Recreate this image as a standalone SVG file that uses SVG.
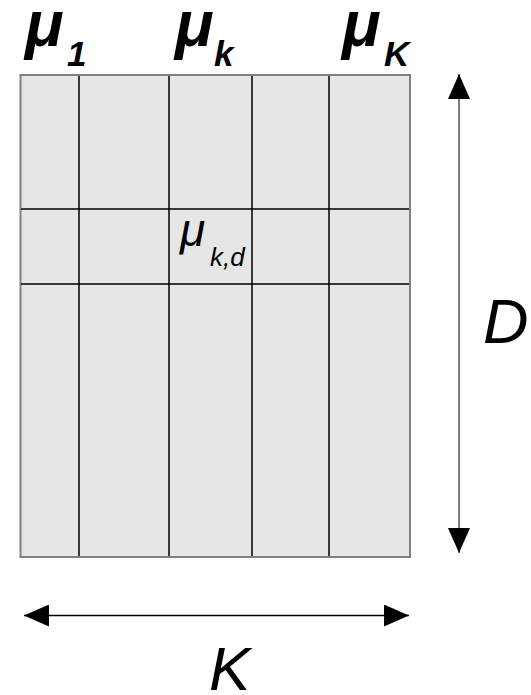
<svg xmlns="http://www.w3.org/2000/svg" width="531" height="695" viewBox="0 0 531 695">
<style>
.b{font-family:"Liberation Sans",Arial,sans-serif;font-style:italic;font-weight:bold;fill:#000}
.i{font-family:"Liberation Sans",Arial,sans-serif;font-style:italic;fill:#000}
.g{stroke:#000;stroke-width:1.5;fill:none}
</style>
<defs>
<marker id="ah" viewBox="0 0 25 22" refX="25" refY="11" markerWidth="25" markerHeight="22" markerUnits="userSpaceOnUse" orient="auto-start-reverse">
<path d="M0,0 L25,11 L0,22 Z" fill="#000"/>
</marker>
</defs>
<rect width="531" height="695" fill="#fff"/>
<g id="matrix">
<rect x="20.5" y="75" width="389.5" height="482" fill="#e6e6e6" stroke="#808080" stroke-width="2"/>
<path class="g" d="M79,76V556M169,76V556M252,76V556M329,76V556M21,209H409M21,284H409"/>
</g>
<g id="labels">
<text class="b" x="25" y="46" font-size="64">μ</text>
<text class="b" x="67" y="66" font-size="35">1</text>
<text class="b" x="175" y="46" font-size="64">μ</text>
<text class="b" x="214" y="66" font-size="35">k</text>
<text class="b" x="342" y="46" font-size="64">μ</text>
<text class="b" x="384" y="66" font-size="35">K</text>
<text class="i" x="180" y="246" font-size="46">μ</text>
<text class="i" x="210" y="266" font-size="26">k,d</text>
<text class="i" x="483" y="343" font-size="63">D</text>
<text class="i" x="209" y="690" font-size="62">K</text>
</g>
<g id="connectors">
<line x1="459" y1="553" x2="459" y2="74" stroke="#808080" stroke-width="2" marker-start="url(#ah)" marker-end="url(#ah)"/>
<line x1="24" y1="615.5" x2="409" y2="615.5" stroke="#000" stroke-width="1.5" marker-start="url(#ah)" marker-end="url(#ah)"/>
</g>
</svg>
